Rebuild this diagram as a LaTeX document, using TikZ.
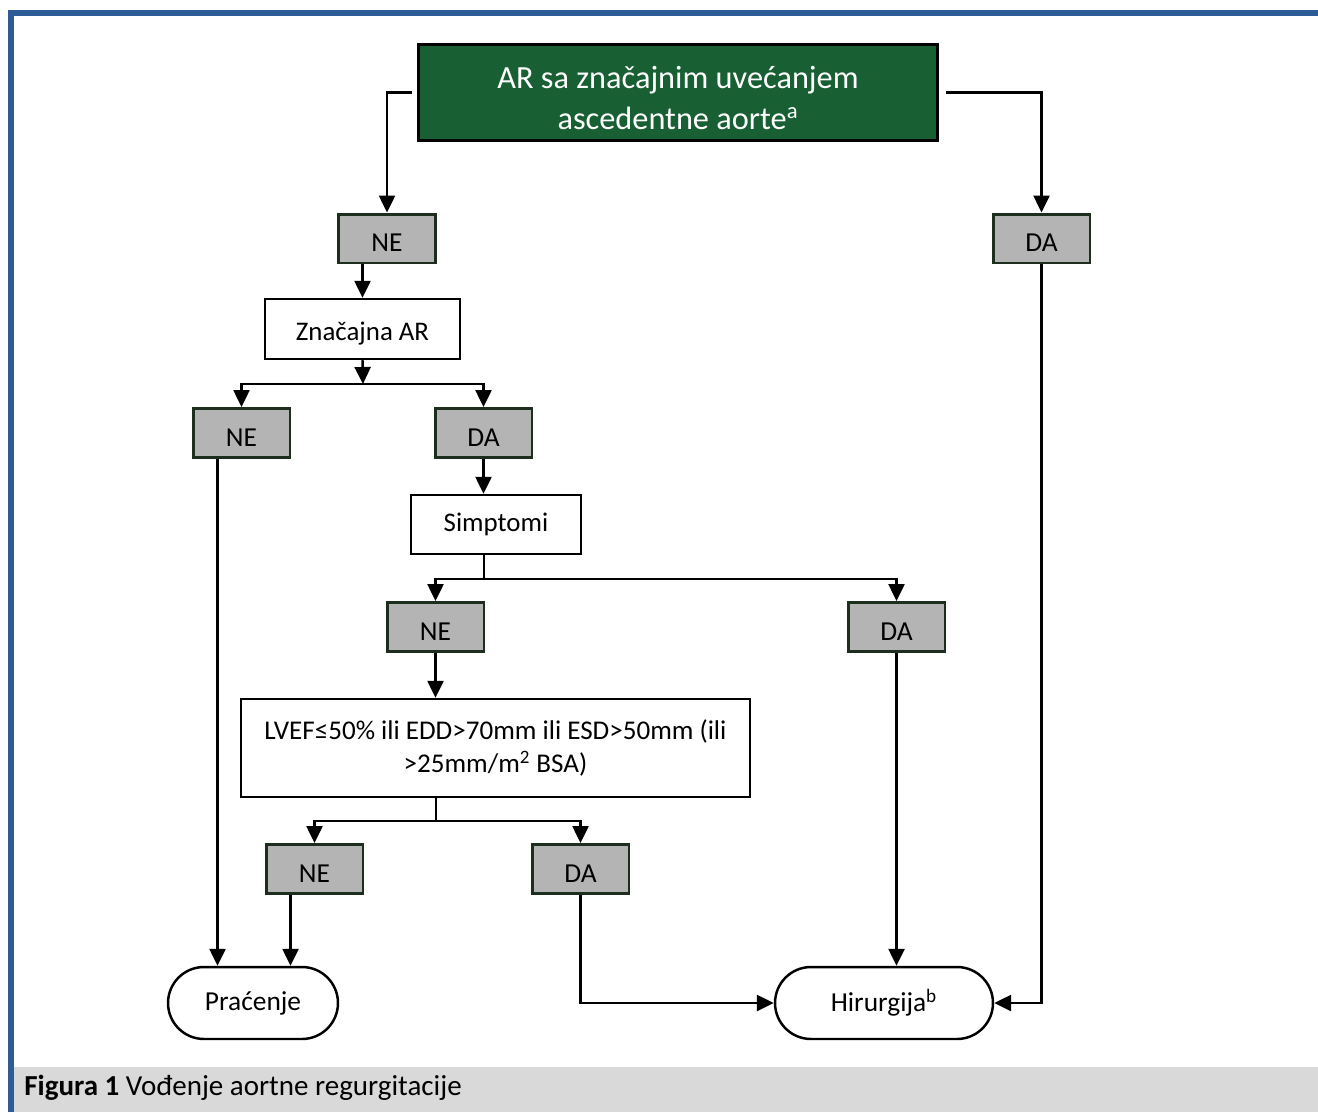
\documentclass[tikz,border=0pt]{standalone}
\usepackage{fontspec}
\setmainfont{Carlito}
\usepackage{xcolor}
\usetikzlibrary{arrows.meta,calc}

\definecolor{frameblue}{HTML}{2B5C96}
\definecolor{topgreen}{HTML}{185F33}
\definecolor{boxgray}{HTML}{B4B4B4}
\definecolor{boxedge}{HTML}{1E2E1E}
\definecolor{capgray}{HTML}{D9D9D9}

\tikzset{
	answer/.style={draw=boxedge,line width=1.7pt,fill=boxgray,minimum width=1.94cm,minimum height=0.98cm,inner sep=0pt,text height=0.52cm,text depth=0cm,font=\fontsize{15.6}{19}\selectfont},
	question/.style={draw,line width=1.4pt,fill=white,inner sep=0pt,align=center,font=\fontsize{15.3}{19}\selectfont},
	endbox/.style={draw,line width=1.4pt,rounded corners=0.72cm,minimum height=1.44cm,inner sep=0pt,font=\fontsize{15.6}{19}\selectfont},
	arr/.style={-{Triangle[length=0.34cm,width=0.32cm]},line width=1.4pt},
	plain/.style={line width=1.4pt}
}

\begin{document}
\begin{tikzpicture}[x=0.02cm,y=-0.02cm]
		\useasboundingbox (0,0) rectangle (1318,1112);
		% frame and caption
		\fill[capgray] (14,1067) rectangle (1318,1112);
		\draw[frameblue,line width=3pt] (11,1112) -- (11,13) -- (1318,13);
		\node[anchor=west,inner sep=0pt,font=\fontsize{16.5}{19}\selectfont] (cap) at (24,1088) {\textbf{Figura 1} Vođenje aortne regurgitacije};
		%
		\node[draw=black,line width=1.7pt,fill=topgreen,text=white,minimum width=10.4cm,minimum height=1.94cm,align=center,font=\fontsize{18.4}{23}\selectfont] (AR) at (678,92.5) {\rule{0pt}{0.66cm}AR sa značajnim uvećanjem\\ascedentne aorte\textsuperscript{a}};
		\node[answer] (NE1) at (387,238.5) {NE};
		\node[answer] (DA1) at (1041.5,238.5) {DA};
		\node[question,minimum width=3.9cm,minimum height=1.2cm] (Z) at (362.5,329) {\rule{0pt}{0.55cm}Značajna AR};
		\node[answer] (NE2) at (241.5,433) {NE};
		\node[answer] (DA2) at (483.5,433) {DA};
		\node[question,minimum width=3.4cm,minimum height=1.18cm] (S) at (496,524.5) {Simptomi};
		\node[answer] (NE3) at (435.5,627) {NE};
		\node[answer] (DA3) at (896.5,627) {DA};
		\node[question,minimum width=10.18cm,minimum height=1.96cm,font=\fontsize{15.4}{18.8}\selectfont] (L) at (495.5,748) {LVEF≤50\% ili EDD>70mm ili ESD>50mm (ili\\>25mm/m\textsuperscript{2} BSA)};
		\node[answer] (NE4) at (314.5,869) {NE};
		\node[answer] (DA4) at (580.5,869) {DA};
		\node[endbox,minimum width=3.4cm] (P) at (253,1003) {Praćenje};
		\node[endbox,minimum width=4.36cm] (H) at (884,1003) {Hirurgija\textsuperscript{b}};
		%
		\coordinate (s1) at (363,384);
		\coordinate (s2) at (484,579);
		\coordinate (s3) at (436,821);
		%
		% from the top box
		\draw[arr] ([xshift=-0.1cm]AR.west) -| (NE1.north);
		\draw[arr] ([xshift=0.14cm]AR.east) -| (DA1.north);
		% vertical arrows
		\draw[arr] (Z.north |- NE1.south) -- (Z.north);
		\draw[arr] (Z.south) -- (s1);
		\draw[arr] (DA2.south) -- (DA2.south |- S.north);
		\draw[plain] (s2 |- S.south) -- (s2);
		\draw[arr] (NE3.south) -- (NE3.south |- L.north);
		\draw[plain] (s3 |- L.south) -- (s3);
		% branches
		\draw[arr] (s1) -| (NE2.north);
		\draw[arr] (s1) -| (DA2.north);
		\draw[arr] (s2) -| (NE3.north);
		\draw[arr] (s2) -| (DA3.north);
		\draw[arr] (s3) -| (NE4.north);
		\draw[arr] (s3) -| (DA4.north);
		% to the end boxes
		\draw[arr] ([xshift=-0.48cm]NE2.south) -- ([xshift=-0.48cm]NE2.south |- P.north);
		\draw[arr] ([xshift=-0.48cm]NE4.south) -- ([xshift=-0.48cm]NE4.south |- P.north);
		\draw[arr] (DA4.south) |- (H.west);
		\draw[arr] (DA3.south) -- (DA3.south |- H.north);
		\draw[arr] (DA1.south) |- (H.east);
	\end{tikzpicture}
\end{document}
